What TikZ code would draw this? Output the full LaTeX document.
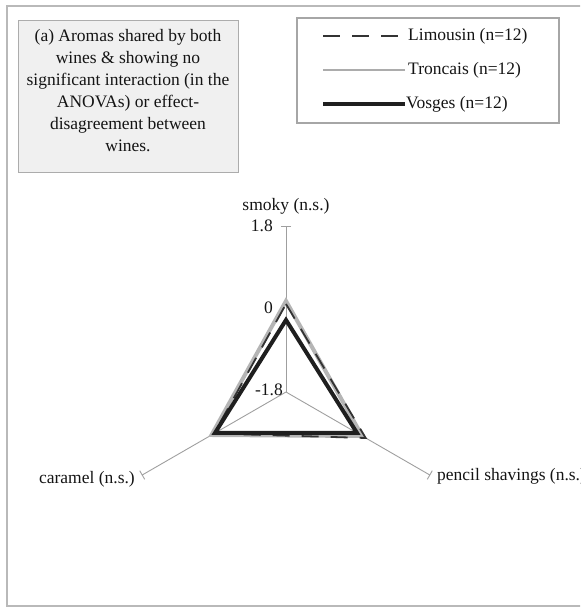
\documentclass[tikz,border=0pt]{standalone}
\usepackage{fontspec}
\setmainfont{Liberation Serif}
\usetikzlibrary{calc}
\begin{document}
\begin{tikzpicture}[x=1pt,y=-1pt,
  every node/.style={inner sep=0pt, text=black!92, font=\fontsize{17.5}{22}\selectfont},
  axisline/.style={draw=gray!75, line width=0.9pt},
  limousin/.style={draw=black!80, line width=1.8pt, dash pattern=on 17pt off 12pt},
  troncais/.style={draw=gray!58, line width=4pt},
  vosges/.style={draw=black!88, line width=4pt},
  frameline/.style={draw=gray!55, line width=1.3pt},
  titlebox/.style={draw=gray!65, fill=gray!12, line width=1pt},
  legendbox/.style={draw=gray!70, line width=1.2pt},
  lbl/.style={anchor=west}
]
\useasboundingbox (0,0) rectangle (580,609);
\clip (0,0) rectangle (580,609);

% outer chart frame (right side runs off the page)
\draw[frameline] (584,6) -- (7,6) -- (7,606) -- (584,606);

% caption box
\draw[titlebox] (18,21) rectangle (238,173);
\node[align=center] (title) at (128,91)
  {(a) Aromas shared by both\\wines \& showing no\\significant interaction (in the\\ANOVAs) or effect-\\disagreement between\\wines.};

% legend
\draw[legendbox] (297,18) rectangle (559,123);
\coordinate (la1) at (323,36);  \coordinate (lb1) at (405,36);
\coordinate (la2) at (323,70);  \coordinate (lb2) at (405,70);
\coordinate (la3) at (323,104); \coordinate (lb3) at (405,104);
\draw[limousin] (la1) -- (lb1);
\draw[troncais, line width=2.5pt, draw=gray!65] (la2) -- (lb2);
\draw[vosges] (la3) -- (lb3);
\node[lbl] (tl1) at (408,36) {Limousin (n=12)};
\node[lbl] (tl2) at (408,70) {Troncais (n=12)};
\node[lbl] (tl3) at (406,104) {Vosges (n=12)};

% radar axes
\coordinate (C) at (286,392);
\coordinate (S) at (286,226);
\coordinate (P) at (429.8,475);
\coordinate (K) at (142.2,475);
\foreach \e in {S,P,K}{
  \draw[axisline] (C) -- (\e);
  \draw[axisline] ($(\e)!5pt!90:(C)$) -- ($(\e)!5pt!-90:(C)$);
}

% axis labels and scale values
\node (smoky) at (286,206) {smoky (n.s.)};
\node[anchor=west] (pencil) at (437,476) {pencil shavings (n.s.)};
\node[anchor=east] (caramel) at (135,479) {caramel (n.s.)};
\node[anchor=east] (v18) at (273,226) {1.8};
\node[anchor=east] (v0) at (273,308) {0};
\node[anchor=east] (vm18) at (283,390) {-1.8};

% data polygons
\draw[troncais] ($(C)!91pt!(S)$) -- ($(C)!88pt!(P)$) -- ($(C)!86pt!(K)$) -- cycle;
\draw[limousin] ($(C)!88pt!(S)$) -- ($(C)!92pt!(P)$) -- ($(C)!83pt!(K)$) -- cycle;
\draw[vosges] ($(C)!72pt!(S)$) -- ($(C)!82pt!(P)$) -- ($(C)!82pt!(K)$) -- cycle;
\end{tikzpicture}
\end{document}
